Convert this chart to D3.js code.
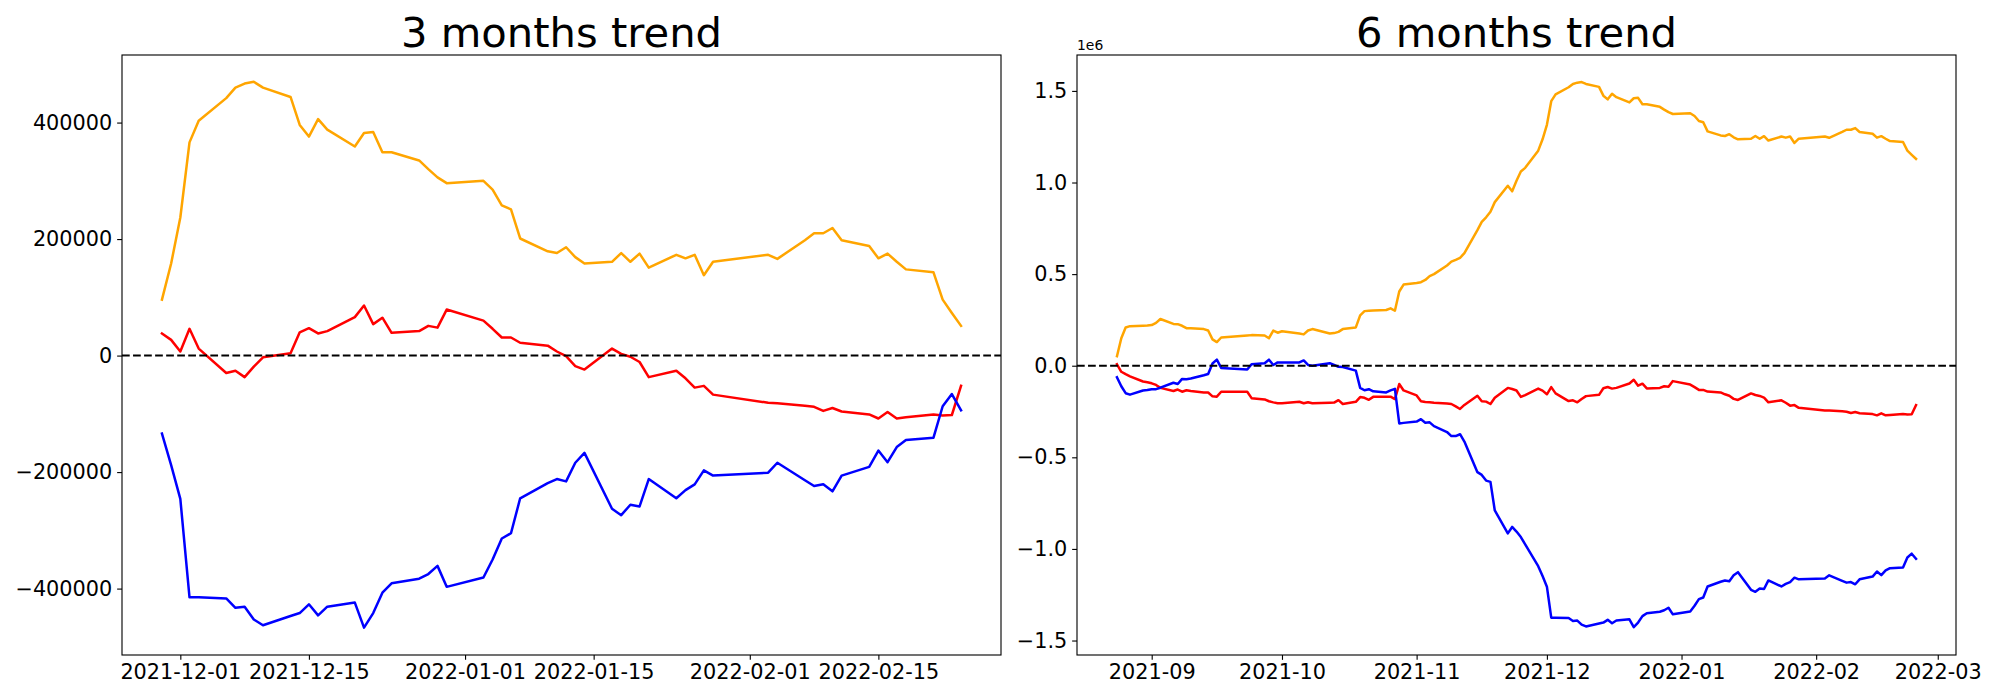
<!DOCTYPE html>
<html><head><meta charset="utf-8">
<script src="https://cdn.jsdelivr.net/npm/d3@7"></script>
<style>
body{margin:0;background:#fff}
svg{display:block}
text{font-family:"DejaVu Sans",sans-serif;fill:#000}
</style>
</head><body>
<svg id="chart" width="2000" height="700"></svg>
<script>
// ---------- 3 months data ----------
const dates3m = ["2021-11-29","2021-11-30","2021-12-01","2021-12-02","2021-12-03","2021-12-06","2021-12-07","2021-12-08","2021-12-09","2021-12-10",
"2021-12-13","2021-12-14","2021-12-15","2021-12-16","2021-12-17","2021-12-20","2021-12-21","2021-12-22","2021-12-23","2021-12-24",
"2021-12-27","2021-12-28","2021-12-29","2021-12-30","2022-01-03","2022-01-04","2022-01-05","2022-01-06","2022-01-07","2022-01-10",
"2022-01-11","2022-01-12","2022-01-13","2022-01-14","2022-01-17","2022-01-18","2022-01-19","2022-01-20","2022-01-21","2022-01-24",
"2022-01-25","2022-01-26","2022-01-27","2022-01-28","2022-02-03","2022-02-04","2022-02-07","2022-02-08","2022-02-09","2022-02-10",
"2022-02-11","2022-02-14","2022-02-15","2022-02-16","2022-02-17","2022-02-18","2022-02-21","2022-02-22","2022-02-23","2022-02-24"];
const orange3m = [96000,158000,237000,366000,403000,442000,460000,467000,470000,460000,
444000,396000,376000,406000,388000,359000,382000,384000,349000,349000,
335000,320000,306000,296000,300000,285000,258000,251000,201000,179000,
176000,186000,169000,158000,161000,176000,161000,175000,151000,173000,
167000,173000,138000,161000,173000,166000,198000,210000,210000,219000,
198000,188000,167000,175000,161000,148000,143000,96000,73000,51000];
const red3m = [38000,27000,7000,46000,12000,-30000,-26000,-37000,-19000,-3000,
4000,40000,47000,38000,42000,66000,86000,54000,65000,39000,
42000,51000,48000,79000,60000,46000,31000,31000,22000,17000,
7000,-1000,-18000,-24000,12000,3000,-2000,-11000,-37000,-26000,
-39000,-55000,-52000,-67000,-81000,-82000,-86000,-88000,-95000,-90000,
-96000,-101000,-108000,-97000,-108000,-106000,-101000,-103000,-102000,-52000];
const blue3m = [-134000,-188000,-246000,-415000,-415000,-417000,-433000,-431000,-453000,-463000,
-447000,-442000,-427000,-446000,-431000,-424000,-467000,-442000,-407000,-391000,
-383000,-375000,-361000,-397000,-381000,-350000,-314000,-305000,-245000,-219000,
-212000,-216000,-184000,-167000,-263000,-274000,-256000,-259000,-212000,-245000,
-231000,-221000,-197000,-206000,-201000,-184000,-214000,-224000,-221000,-233000,
-206000,-191000,-163000,-183000,-157000,-145000,-141000,-87000,-66000,-94000];
const ticks3mX = ["2021-12-01","2021-12-15","2022-01-01","2022-01-15","2022-02-01","2022-02-15"];
const ticks3mY = [-400000,-200000,0,200000,400000];
const domain3mY = [-514000,516000];

// ---------- 6 months data ----------
const dates6m = ["2021-08-24","2021-08-25","2021-08-26","2021-08-27","2021-08-30","2021-08-31","2021-09-01","2021-09-02","2021-09-03","2021-09-06",
"2021-09-07","2021-09-08","2021-09-09","2021-09-10","2021-09-13","2021-09-14","2021-09-15","2021-09-16","2021-09-17","2021-09-23",
"2021-09-24","2021-09-27","2021-09-28","2021-09-29","2021-09-30","2021-10-01","2021-10-05","2021-10-06","2021-10-07","2021-10-08",
"2021-10-12","2021-10-13","2021-10-14","2021-10-15","2021-10-18","2021-10-19","2021-10-20","2021-10-21","2021-10-22","2021-10-25",
"2021-10-26","2021-10-27","2021-10-28","2021-10-29","2021-11-01","2021-11-02","2021-11-03","2021-11-04","2021-11-05","2021-11-08",
"2021-11-09","2021-11-10","2021-11-11","2021-11-12","2021-11-15","2021-11-16","2021-11-17","2021-11-18","2021-11-19","2021-11-22",
"2021-11-23","2021-11-24","2021-11-25","2021-11-26",
"2021-11-29","2021-11-30","2021-12-01","2021-12-02","2021-12-03","2021-12-06","2021-12-07","2021-12-08","2021-12-09","2021-12-10",
"2021-12-13","2021-12-14","2021-12-15","2021-12-16","2021-12-17","2021-12-20","2021-12-21","2021-12-22","2021-12-23","2021-12-24",
"2021-12-27","2021-12-28","2021-12-29","2021-12-30","2022-01-03","2022-01-04","2022-01-05","2022-01-06","2022-01-07","2022-01-10",
"2022-01-11","2022-01-12","2022-01-13","2022-01-14","2022-01-17","2022-01-18","2022-01-19","2022-01-20","2022-01-21","2022-01-24",
"2022-01-25","2022-01-26","2022-01-27","2022-01-28","2022-02-03","2022-02-04","2022-02-07","2022-02-08","2022-02-09","2022-02-10",
"2022-02-11","2022-02-14","2022-02-15","2022-02-16","2022-02-17","2022-02-18","2022-02-21","2022-02-22","2022-02-23","2022-02-24"];
const orange6m = [52000,150000,209000,216000,218000,219000,222000,234000,255000,228000,
227000,218000,205000,204000,200000,192000,144000,129000,154000,165000,
167000,165000,150000,192000,180000,188000,176000,171000,192000,200000,
176000,178000,185000,200000,209000,275000,298000,300000,301000,304000,
313000,300000,405000,443000,452000,456000,468000,489000,500000,547000,
568000,578000,589000,614000,740000,785000,810000,840000,893000,982000,
952000,1010000,1060000,1080000,
1174000,1236000,1315000,1444000,1481000,1520000,1538000,1545000,1548000,1538000,
1522000,1474000,1454000,1484000,1466000,1437000,1460000,1462000,1427000,1427000,
1413000,1398000,1384000,1374000,1378000,1363000,1336000,1329000,1279000,1257000,
1254000,1264000,1247000,1236000,1239000,1254000,1239000,1253000,1229000,1251000,
1245000,1251000,1216000,1239000,1251000,1244000,1276000,1288000,1288000,1297000,
1276000,1266000,1245000,1253000,1239000,1226000,1221000,1174000,1151000,1129000];
const red6m = [8000,-33000,-46000,-58000,-86000,-90000,-96000,-105000,-121000,-138000,
-130000,-142000,-134000,-138000,-146000,-146000,-167000,-169000,-142000,-142000,
-177000,-184000,-194000,-200000,-205000,-205000,-197000,-205000,-199000,-205000,
-202000,-201000,-188000,-209000,-197000,-171000,-175000,-186000,-170000,-169000,
-169000,-182000,-100000,-135000,-162000,-194000,-198000,-200000,-202000,-206000,
-209000,-222000,-236000,-214000,-164000,-194000,-196000,-209000,-175000,-121000,
-127000,-135000,-170000,-160000,
-125000,-136000,-156000,-117000,-151000,-193000,-189000,-200000,-182000,-166000,
-159000,-123000,-116000,-125000,-121000,-97000,-77000,-109000,-98000,-124000,
-121000,-112000,-115000,-84000,-103000,-117000,-132000,-132000,-141000,-146000,
-156000,-164000,-181000,-187000,-151000,-160000,-165000,-174000,-200000,-189000,
-202000,-218000,-215000,-230000,-244000,-245000,-249000,-251000,-258000,-253000,
-259000,-264000,-271000,-260000,-271000,-269000,-264000,-266000,-265000,-215000];
const blue6m = [-63000,-112000,-150000,-158000,-135000,-133000,-128000,-128000,-120000,-93000,
-100000,-72000,-74000,-70000,-52000,-45000,12000,33000,-12000,-21000,
8000,14000,33000,4000,18000,18000,18000,29000,4000,0,
14000,5000,-6000,-7000,-27000,-121000,-134000,-128000,-140000,-146000,
-135000,-126000,-315000,-312000,-305000,-292000,-311000,-309000,-330000,-362000,
-384000,-384000,-374000,-414000,-581000,-596000,-627000,-634000,-790000,-915000,
-880000,-905000,-935000,-975000,
-1094000,-1148000,-1206000,-1375000,-1375000,-1377000,-1393000,-1391000,-1413000,-1423000,
-1407000,-1402000,-1387000,-1406000,-1391000,-1384000,-1427000,-1402000,-1367000,-1351000,
-1343000,-1335000,-1321000,-1357000,-1341000,-1310000,-1274000,-1265000,-1205000,-1179000,
-1172000,-1176000,-1144000,-1127000,-1223000,-1234000,-1216000,-1219000,-1172000,-1205000,
-1191000,-1181000,-1157000,-1166000,-1161000,-1144000,-1174000,-1184000,-1181000,-1193000,
-1166000,-1151000,-1123000,-1143000,-1117000,-1105000,-1101000,-1047000,-1026000,-1054000];
const ticks6mX = ["2021-09-01","2021-10-01","2021-11-01","2021-12-01","2022-01-01","2022-02-01","2022-03-01"];
const ticks6mY = [-1500000,-1000000,-500000,0,500000,1000000,1500000];
const domain6mY = [-1579000,1696000];

const seriesColors = ["orange","red","blue"];

// ---------- drawing ----------
const parse = d3.utcParse("%Y-%m-%d");
const svg = d3.select("#chart");
const PT = 100/72; // px per point

function panel(opt){
  const {left, right, top, bottom} = opt;
  const dates = opt.dates.map(parse);
  const ext = d3.extent(dates);
  const span = ext[1] - ext[0];
  const x = d3.scaleUtc()
    .domain([new Date(+ext[0] - 0.05*span), new Date(+ext[1] + 0.05*span)])
    .range([left, right]);
  const y = d3.scaleLinear().domain(opt.yDomain).range([bottom, top]);
  const g = svg.append("g");

  const line = d3.line().x((d,i)=>x(dates[i])).y(d=>y(d));
  opt.series.forEach((vals, k)=>{
    g.append("path").datum(vals)
      .attr("d", line)
      .attr("fill","none")
      .attr("stroke", seriesColors[k])
      .attr("stroke-width", 2.5)
      .attr("stroke-linejoin","round")
      .attr("stroke-linecap","square");
  });

  // zero dashed line
  g.append("line")
    .attr("x1", left).attr("x2", right)
    .attr("y1", y(0)).attr("y2", y(0))
    .attr("stroke","#000").attr("stroke-width",1.5*PT)
    .attr("stroke-dasharray", `${5.55*PT},${2.4*PT}`);

  // axes
  const tickLen = 3.5*PT, tickPad = 3.5*PT;
  const xa = g.append("g").attr("transform",`translate(0,${bottom})`)
    .call(d3.axisBottom(x).tickValues(opt.xTicks.map(parse))
      .tickFormat(d3.utcFormat(opt.xFormat)).tickSize(tickLen).tickPadding(tickPad));
  const ya = g.append("g").attr("transform",`translate(${left},0)`)
    .call(d3.axisLeft(y).tickValues(opt.yTicks).tickFormat(opt.yFormat)
      .tickSize(tickLen).tickPadding(tickPad));
  [xa, ya].forEach(a=>{
    a.select(".domain").remove();
    a.selectAll("line").attr("stroke","#000").attr("stroke-width",0.8*PT);
    a.selectAll("text").attr("font-size","20.8px").attr("font-family","DejaVu Sans").attr("fill","#000");
  });

  // spines
  g.append("rect").attr("x",left).attr("y",top).attr("width",right-left).attr("height",bottom-top)
    .attr("fill","none").attr("stroke","#000").attr("stroke-width",0.8*PT);

  // title
  g.append("text").attr("x",(left+right)/2).attr("y",top-6*PT)
    .attr("text-anchor","middle").attr("font-size","41.7px").text(opt.title);

  if(opt.offsetText){
    g.append("text").attr("x",left).attr("y",top-5)
      .attr("font-size","13.9px").text(opt.offsetText);
  }
}

panel({left:122, right:1001, top:55, bottom:655,
  dates: dates3m, series:[orange3m, red3m, blue3m],
  yDomain: domain3mY, yTicks: ticks3mY, yFormat: d3.format("d"),
  xTicks: ticks3mX, xFormat: "%Y-%m-%d", title: "3 months trend"});

panel({left:1077, right:1956, top:55, bottom:655,
  dates: dates6m, series:[orange6m, red6m, blue6m],
  yDomain: domain6mY, yTicks: ticks6mY, yFormat: v => d3.format(".1f")(v/1e6),
  xTicks: ticks6mX, xFormat: "%Y-%m", title: "6 months trend", offsetText: "1e6"});
</script>
</body></html>
